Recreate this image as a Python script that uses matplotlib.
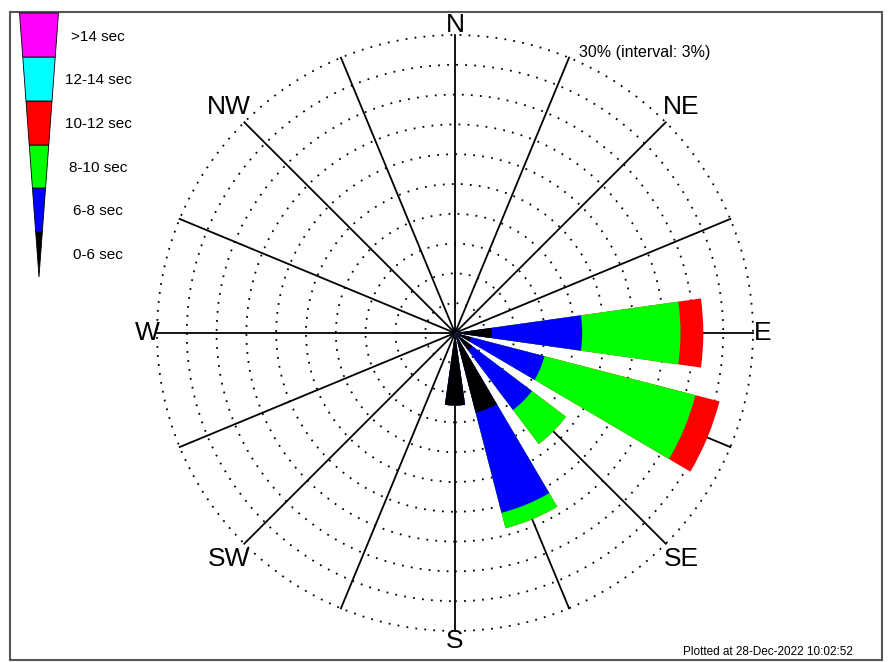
import numpy as np
import matplotlib
matplotlib.use('Agg')
import matplotlib.pyplot as plt
from matplotlib.patches import Wedge, Rectangle, Polygon, Circle

# wave period classes (inner to outer)
classes = ['0-6 sec', '6-8 sec', '8-10 sec', '10-12 sec', '12-14 sec', '>14 sec']
colors = ['black', '#0000ff', '#00ff00', '#ff0000', '#00ffff', '#ff00ff']
directions = [90, 112.5, 135, 157.5, 180]  # compass degrees
# cumulative percentages per class
black = [3.7, 1.7, 2.2, 8.3, 7.3]
blue = [12.8, 9.3, 9.7, 18.7, 7.3]
green = [22.7, 25.0, 14.0, 20.3, 7.3]
red = [25.0, 27.5, 14.0, 20.3, 7.3]
cumulative = [black, blue, green, red]

W, H = 892, 662
cx, cy = 455, H - 333
R = 298.0
scale = R / 30.0

fig = plt.figure(figsize=(W / 100, H / 100), dpi=100)
ax = fig.add_axes([0, 0, 1, 1])
ax.set_xlim(0, W)
ax.set_ylim(0, H)
ax.axis('off')

ax.add_patch(Rectangle((10, 2), 872, H - 14, fill=False, ec='#555555', lw=1.5))

# rings
for pct in range(3, 31, 3):
    ax.add_patch(Circle((cx, cy), pct * scale, fill=False, ls=(0, (1, 4)), lw=1.3, ec='black'))

# spokes
for d in np.arange(0, 360, 22.5):
    a = np.radians(90 - d)
    ax.plot([cx, cx + R * np.cos(a)], [cy, cy + R * np.sin(a)], color='black', lw=1.3, zorder=2)

# bars, outermost first
for k in range(len(cumulative) - 1, -1, -1):
    for d, v in zip(directions, cumulative[k]):
        a = 90 - d
        ax.add_patch(Wedge((cx, cy), v * scale, a - 8, a + 8, fc=colors[k], ec='none', zorder=3))

labels = {'N': 0, 'NE': 45, 'E': 90, 'SE': 135, 'S': 180, 'SW': 225, 'W': 270, 'NW': 315}
for name, d in labels.items():
    a = np.radians(90 - d)
    rr = 308 if d % 90 == 0 else 320
    ax.text(cx + rr * np.cos(a), cy + rr * np.sin(a), name, fontsize=19,
            ha='center', va='center', family='Liberation Sans')

ax.text(645, H - 52, '30% (interval: 3%)', fontsize=11.5, ha='center', va='center',
        family='Liberation Sans')
ax.text(768, H - 652, 'Plotted at 28-Dec-2022 10:02:52', fontsize=8.5, ha='center',
        va='center', family='Liberation Sans')

# tapered legend
bounds = [13, 57, 101, 145, 188, 232, 277]
def halfw(y):
    return 19.5 * (277 - y) / (277 - 13)
lab_y = [255, 211, 168, 124, 80, 37]
for i in range(6):
    y0, y1 = bounds[5 - i], bounds[6 - i]  # top, bottom in pixels
    pts = [(39 - halfw(y0), H - y0), (39 + halfw(y0), H - y0),
           (39 + halfw(y1), H - y1), (39 - halfw(y1), H - y1)]
    ax.add_patch(Polygon(pts, fc=colors[i], ec='black', lw=0.6))
    ax.text(98, H - lab_y[i], classes[i], fontsize=11, ha='center', va='center',
            family='Liberation Sans')

fig.savefig('out.png', dpi=100)
